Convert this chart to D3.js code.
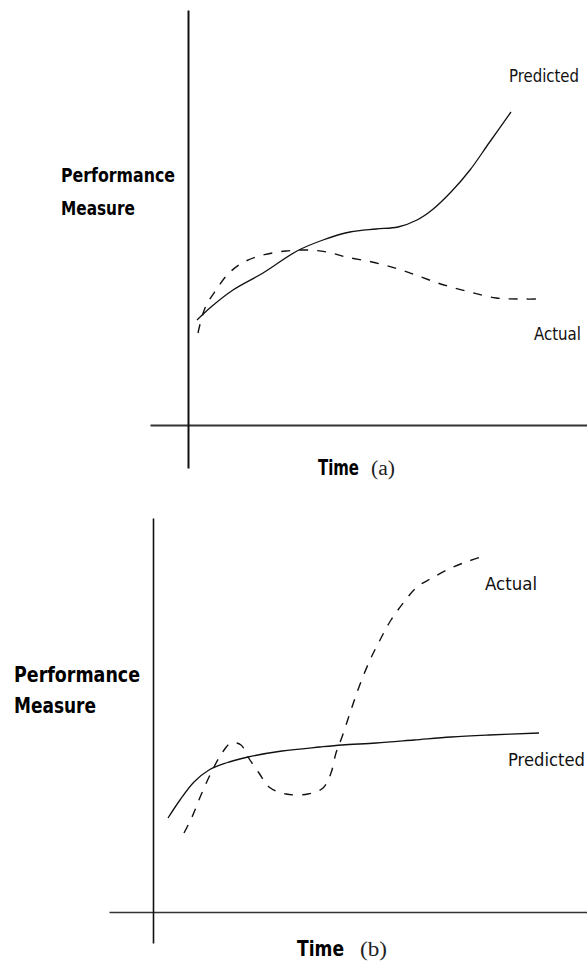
<!DOCTYPE html>
<html>
<head>
<meta charset="utf-8">
<script src="https://cdn.jsdelivr.net/npm/d3@7"></script>
<style>
  html, body { margin: 0; padding: 0; background: #fff; }
  svg { display: block; }
</style>
</head>
<body>
<svg id="chart" width="587" height="962"></svg>
<script>
// ---------------- DATA ----------------
// Panel (a): time (0-100) vs performance (0-100)
const predictedA_time = [2.25, 5.75, 11.25, 18.75, 27.25, 33.75, 40.5, 47, 52.5, 57.25, 61, 65.75, 70.5, 75.25, 80.75];
const predictedA_perf = [26.25, 29.5, 33.75, 38, 43.5, 46.25, 48.25, 49, 49.5, 51.25, 53.75, 58.25, 63.75, 70.5, 78.25];
const actualA_time = [2.5, 4.25, 7, 10.25, 14, 18.75, 24.5, 30, 34.75, 39.5, 46, 52.5, 58.25, 64, 70.5, 77, 82.75, 88.75];
const actualA_perf = [23, 29.25, 33.75, 38, 40.75, 42.5, 43.5, 43.75, 43.25, 42, 40.75, 39, 37, 35, 33.25, 31.75, 31.5, 31.5];

// Panel (b)
const predictedB_time = [3.75, 6.75, 10.25, 14, 18.25, 23.75, 32.25, 41.75, 47.25, 55.75, 65.25, 74.5, 84, 96.5];
const predictedB_perf = [23.5, 28, 32.5, 35.5, 37.25, 38.75, 40.25, 41.25, 41.75, 42.25, 43, 43.75, 44.25, 44.75];
const actualB_time = [7.75, 9.75, 12, 14.5, 17.25, 19.5, 22, 23.75, 26.5, 29, 33.25, 38.75, 42.5, 44.5, 45.75, 47.25, 49.25, 51.5, 54.25, 56.75, 59.5, 62.75, 66, 69.75, 74.5, 78.25, 82];
const actualB_perf = [19.75, 23.75, 29.25, 34.75, 39.75, 42.25, 41.75, 38.75, 34.75, 31.25, 29.5, 29.5, 31, 34.75, 39.75, 43.75, 49.75, 56.25, 63, 68, 73, 77.5, 81.25, 83.5, 86, 87.5, 88.75];

// Text labels
const yLabelLines = ["Performance", "Measure"];
const xLabel = "Time";
const panelTags = ["(a)", "(b)"];
const seriesNames = ["Predicted", "Actual"];

// ---------------- LAYOUT ----------------
const NARROW = "'Liberation Sans Narrow', 'DejaVu Sans Condensed', 'DejaVu Sans', sans-serif";
const panels = [
  {
    tag: panelTags[0],
    xDomain: [-9.5, 99.75], xRange: [150, 587],
    yDomain: [-10.75, 103.75], yRange: [468, 10],
    axisW: 2,
    pred: [predictedA_time, predictedA_perf],
    act: [actualA_time, actualA_perf],
    yLab: { x: 61, y: [182, 215], fs: 20, len: [114, 74] },
    xLab: { x: 318, y: 475, fs: 22, len: 41, tagX: 371, tagLen: 24 },
    predLab: { x: 509, y: 82, len: 70 },
    actLab: { x: 534, y: 340, len: 47 }
  },
  {
    tag: panelTags[1],
    xDomain: [-11, 108.5], xRange: [109, 587],
    yDomain: [-7.75, 98.5], yRange: [943, 518],
    axisW: 1.6,
    pred: [predictedB_time, predictedB_perf],
    act: [actualB_time, actualB_perf],
    yLab: { x: 14, y: [682, 713], fs: 21, len: [126, 82] },
    xLab: { x: 297, y: 956, fs: 22, len: 47, tagX: 360, tagLen: 27 },
    predLab: { x: 508, y: 766, len: 77 },
    actLab: { x: 485, y: 590, len: 52 }
  }
];

const svg = d3.select("#chart");

panels.forEach(p => {
  const x = d3.scaleLinear().domain(p.xDomain).range(p.xRange);
  const y = d3.scaleLinear().domain(p.yDomain).range(p.yRange);
  const g = svg.append("g");

  // axes (no ticks), crossing at origin
  g.append("g")
    .attr("transform", `translate(0,${y(0)})`)
    .call(d3.axisBottom(x).tickValues([]).tickSizeOuter(0))
    .call(a => a.select(".domain").attr("stroke", "#333").attr("stroke-width", p.axisW));
  g.append("g")
    .attr("transform", `translate(${x(0)},0)`)
    .call(d3.axisLeft(y).tickValues([]).tickSizeOuter(0))
    .call(a => a.select(".domain").attr("stroke", "#111").attr("stroke-width", p.axisW));

  const line = d3.line()
    .x(d => x(d[0])).y(d => y(d[1]))
    .curve(d3.curveCatmullRom.alpha(0.5));

  const predPts = d3.zip(p.pred[0], p.pred[1]);
  const actPts = d3.zip(p.act[0], p.act[1]);

  g.append("path").datum(predPts)
    .attr("d", line).attr("fill", "none")
    .attr("stroke", "#111").attr("stroke-width", 1.3);
  g.append("path").datum(actPts)
    .attr("d", line).attr("fill", "none")
    .attr("stroke", "#111").attr("stroke-width", 1.4)
    .attr("stroke-dasharray", "9,9");

  // y label (bold)
  yLabelLines.forEach((t, i) => {
    g.append("text")
      .attr("x", p.yLab.x).attr("y", p.yLab.y[i])
      .attr("font-family", NARROW).attr("font-weight", "bold")
      .attr("font-size", p.yLab.fs)
      .attr("textLength", p.yLab.len[i]).attr("lengthAdjust", "spacingAndGlyphs")
      .attr("fill", "#000").text(t);
  });

  // x label
  g.append("text")
    .attr("x", p.xLab.x).attr("y", p.xLab.y)
    .attr("font-family", NARROW).attr("font-weight", "bold")
    .attr("font-size", p.xLab.fs)
    .attr("textLength", p.xLab.len).attr("lengthAdjust", "spacingAndGlyphs")
    .attr("fill", "#000").text(xLabel);
  g.append("text")
    .attr("x", p.xLab.tagX).attr("y", p.xLab.y)
    .attr("font-family", "Liberation Serif")
    .attr("font-size", 20)
    .attr("textLength", p.xLab.tagLen).attr("lengthAdjust", "spacingAndGlyphs")
    .attr("fill", "#222").text(p.tag);

  // series labels
  [[seriesNames[0], p.predLab], [seriesNames[1], p.actLab]].forEach(([t, l]) => {
    g.append("text")
      .attr("x", l.x).attr("y", l.y)
      .attr("font-family", NARROW)
      .attr("font-size", 18)
      .attr("textLength", l.len).attr("lengthAdjust", "spacingAndGlyphs")
      .attr("fill", "#111").text(t);
  });
});
</script>
</body>
</html>
